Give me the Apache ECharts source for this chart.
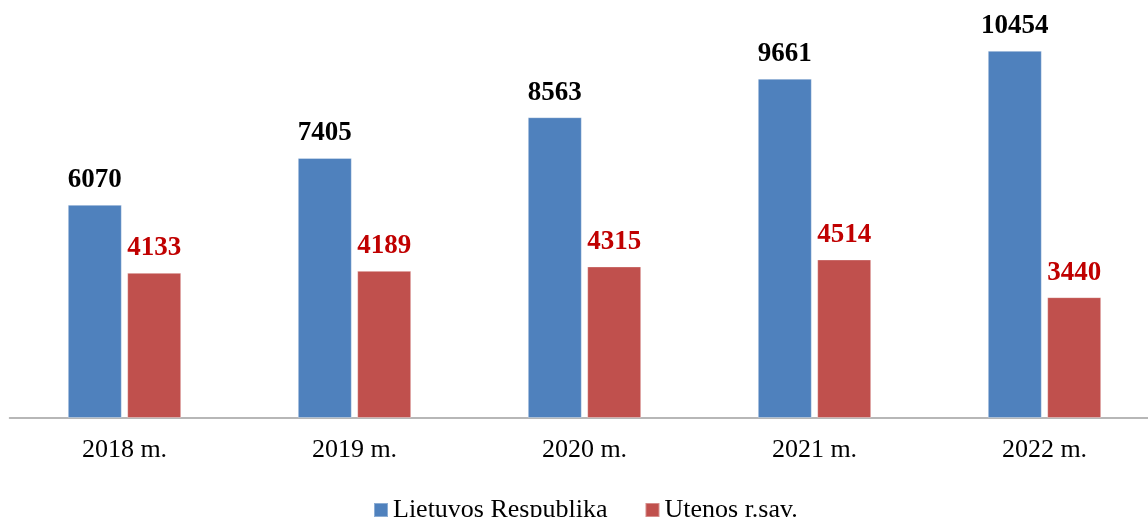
<!DOCTYPE html>
<html>
<head>
<meta charset="utf-8">
<script src="https://cdn.jsdelivr.net/npm/echarts@6/dist/echarts.min.js"></script>
<style>
  html, body { margin: 0; padding: 0; background: #fff; }
  #chart { width: 1148px; height: 517px; }
</style>
</head>
<body>
<div id="chart"></div>
<script>
// chart data
const years = ['2018 m.', '2019 m.', '2020 m.', '2021 m.', '2022 m.'];
const lietuva = [6070, 7405, 8563, 9661, 10454];
const utena = [4133, 4189, 4315, 4514, 3440];
const seriesNames = ['Lietuvos Respublika', 'Utenos r.sav.'];

const font = "'Liberation Serif', 'Times New Roman', serif";

let myChart = echarts.init(document.getElementById('chart'));

let option = {
    animation: false,
    backgroundColor: '#fff',
    textStyle: { fontFamily: font },
    grid: { left: 9.5, top: 0, right: -11.5, bottom: 99, outerBoundsMode: 'none' },
    legend: {
        left: 368,
        top: 492,
        itemWidth: 14,
        itemHeight: 14,
        itemGap: 37,
        icon: 'rect',
        textStyle: { fontFamily: font, fontSize: 26, color: '#000' },
        data: seriesNames
    },
    xAxis: {
        type: 'category',
        data: years,
        axisLine: { lineStyle: { color: '#a0a0a0', width: 1.5 } },
        axisTick: { show: false },
        axisLabel: { fontFamily: font, fontSize: 26, color: '#000', margin: 19 }
    },
    yAxis: {
        type: 'value',
        min: 0,
        max: 11900,
        show: false,
        splitLine: { show: false }
    },
    series: [
        {
            name: seriesNames[0],
            type: 'bar',
            data: lietuva,
            barWidth: 54,
            barGap: '10%',
            itemStyle: { color: '#4f81bd', borderColor: 'rgba(255,255,255,0.35)', borderWidth: 1 },
            label: {
                show: true,
                position: 'top',
                distance: 11,
                fontFamily: font,
                fontSize: 27,
                fontWeight: 'bold',
                color: '#000'
            }
        },
        {
            name: seriesNames[1],
            type: 'bar',
            data: utena,
            barWidth: 54,
            itemStyle: { color: '#c0504d', borderColor: 'rgba(255,255,255,0.35)', borderWidth: 1 },
            label: {
                show: true,
                position: 'top',
                distance: 11,
                fontFamily: font,
                fontSize: 27,
                fontWeight: 'bold',
                color: '#c00000'
            }
        }
    ]
};

myChart.setOption(option);
</script>
</body>
</html>
